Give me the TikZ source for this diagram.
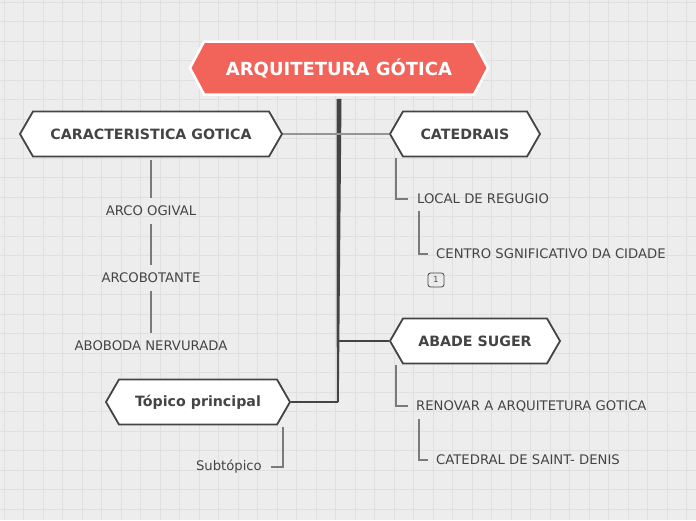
\documentclass[tikz,border=0pt]{standalone}
\usepackage{fontspec}
\setmainfont{DejaVu Sans}
\usetikzlibrary{shapes.symbols,calc}
\definecolor{paper}{HTML}{EDEDED}
\definecolor{gridgray}{HTML}{E0E0E0}
\definecolor{titlered}{HTML}{F2635A}
\definecolor{ink}{HTML}{444444}
\definecolor{branchgray}{HTML}{7A7A7A}
\begin{document}
\begin{tikzpicture}[x=1pt,y=-1pt,
    hexa/.style = {shape=signal, signal to=west and east, signal pointer angle=120,
                   draw=ink, line width=1.8pt, fill=white, text=ink,
                   font=\fontsize{14.2}{16}\selectfont\bfseries, minimum height=45pt, inner sep=0pt},
    roottopic/.style = {hexa, fill=titlered, draw=white, line width=2.5pt, text=white,
                   signal pointer angle=124, minimum height=53pt,
                   font=\fontsize{18}{21}\selectfont\bfseries},
    sub/.style = {text=ink, font=\fontsize{13.2}{15}\selectfont, inner sep=2pt},
    twig/.style = {draw=branchgray, line width=1.3pt},
    limb/.style = {draw=ink, line width=1.4pt}]
  \useasboundingbox (0,0) rectangle (696,520);
  \fill[paper] (0,0) rectangle (696,520);
  \foreach \i in {0,...,35}
    \draw[gridgray, line width=1pt] (4+19.5*\i,0) -- (4+19.5*\i,520);
  \foreach \j in {0,...,26}
    \draw[gridgray, line width=1pt] (0,2+19.5*\j) -- (696,2+19.5*\j);
  % main topics
  \node[roottopic, minimum width=298pt] (title) at (339,68) {ARQUITETURA GÓTICA};
  \node[hexa, minimum width=262pt] (cara) at (151,134) {CARACTERISTICA GOTICA};
  \node[hexa, minimum width=150pt] (cat) at (465,134) {CATEDRAIS};
  \node[hexa, minimum width=170pt] (abade) at (475,341) {ABADE SUGER};
  \node[hexa, minimum width=184pt] (topico) at (198,402) {Tópico principal};
  % subtopics
  \node[sub] (arco) at (151,211) {ARCO OGIVAL};
  \node[sub] (arcob) at (151,278) {ARCOBOTANTE};
  \node[sub] (abob) at (151,346) {ABOBODA NERVURADA};
  \node[sub, anchor=west] (local) at (415,199) {LOCAL DE REGUGIO};
  \node[sub, anchor=west] (centro) at (434,254) {CENTRO SGNIFICATIVO DA CIDADE};
  \node[draw=ink, line width=0.8pt, rounded corners=2.5pt, minimum width=16pt, minimum height=14pt,
        inner sep=0pt, text=ink, font=\fontsize{8}{9}\selectfont] (num) at (436,280) {1};
  \node[sub, anchor=west] (renovar) at (414,406) {RENOVAR A ARQUITETURA GOTICA};
  \node[sub, anchor=west] (denis) at (434,460) {CATEDRAL DE SAINT- DENIS};
  \node[sub, anchor=east] (subt) at (264,467) {Subtópico};
  % trunk
  \coordinate (root) at (338,402);
  \coordinate (fork) at (338.5,341);
  \fill[ink] ($(title.south)+(-2.5,3)$) -- ($(title.south)+(2.5,3)$)
    -- ($(root)+(0.8,0)$) -- ($(root)+(-1.2,0)$) -- cycle;
  \draw[twig, draw=branchgray!80] (cara.east) -- (cat.west);
  \draw[limb] (fork) -- (abade.west);
  \draw[limb] (root) -- (topico.east);
  % branches
  \draw[twig] ($(cara.south)+(0,3)$) -- ($(arco.north)+(0,-6)$);
  \draw[twig] ($(arco.south)+(0,6)$) -- ($(arcob.north)+(0,-6)$);
  \draw[twig] ($(arcob.south)+(0,6)$) -- ($(abob.north)+(0,-6)$);
  \draw[twig] ($(cat.west)+(7,24)$) |- ($(local.west)+(-7,0)$);
  \draw[twig] ($(local.south west)+(4,5)$) |- ($(centro.west)+(-6,0)$);
  \draw[twig] ($(abade.west)+(7,24)$) |- ($(renovar.west)+(-6,0)$);
  \draw[twig] ($(renovar.south west)+(5,5)$) |- ($(denis.west)+(-6,0)$);
  \draw[twig] ($(topico.east)+(-8,25)$) |- ($(subt.east)+(7,0)$);
\end{tikzpicture}
\end{document}
